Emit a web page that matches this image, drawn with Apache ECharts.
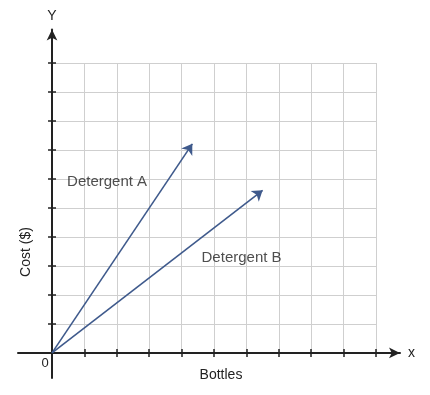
<!DOCTYPE html>
<html>
<head>
<meta charset="utf-8">
<script src="https://cdn.jsdelivr.net/npm/echarts@6/dist/echarts.min.js"></script>
<style>html,body{margin:0;padding:0;background:#fff;}#c{width:430px;height:395px;}</style>
</head>
<body>
<div id="c"></div>
<script>
// ---- data ----
var tickValues = [1, 2, 3, 4, 5, 6, 7, 8, 9, 10];
var seriesNames = ['Detergent A', 'Detergent B'];
var lineA = [[0, 0], [4.33, 7.21]];
var lineB = [[0, 0], [6.50, 5.61]];
var labelA = [1.70, 5.9];
var labelB = [5.85, 3.28];
var originLabel = '0';
var xName = 'Bottles';
var yName = 'Cost ($)';

var FONT = 'Liberation Sans, Arial, sans-serif';
var AXIS = '#222';
var LINE = '#3f5a8c';

var chart = echarts.init(document.getElementById('c'), null, {renderer: 'canvas'});

var hidden = {show: false};
var option = {
  animation: false,
  backgroundColor: '#fff',
  textStyle: {fontFamily: FONT},
  grid: [
    // axes grid (extended range so that axis lines overshoot the gridded area)
    {left: 18, top: 29.5, width: 382.0, height: 348.4},
    // gridline grid
    {left: 52, top: 63, width: 324, height: 290}
  ],
  xAxis: [
    {
      gridIndex: 0, type: 'value', min: -1.05, max: 10.74, position: 'bottom',
      axisLine: {show: true, onZero: true, onZeroAxisIndex: 0,
        lineStyle: {color: AXIS, width: 2}, symbol: ['none', 'arrow'], symbolSize: [8, 11]},
      axisTick: {show: true, customValues: tickValues, length: 4, lineStyle: {color: AXIS, width: 1.5}},
      axisLabel: hidden, splitLine: hidden,
      name: 'x', nameLocation: 'end', nameGap: 8,
      nameTextStyle: {color: AXIS, fontSize: 14, fontFamily: FONT, verticalAlign: 'middle'}
    },
    {
      gridIndex: 1, type: 'value', min: 0, max: 10, interval: 1,
      axisLine: hidden, axisTick: hidden, axisLabel: hidden,
      splitLine: {show: true, lineStyle: {color: '#cfcfcf', width: 1}}
    },
    {
      gridIndex: 0, type: 'value', min: -1.05, max: 10.74, position: 'bottom',
      axisLine: {show: false, onZero: true, onZeroAxisIndex: 0},
      axisTick: {show: true, inside: true, customValues: tickValues, length: 4, lineStyle: {color: AXIS, width: 1.5}},
      axisLabel: hidden, splitLine: hidden
    }
  ],
  yAxis: [
    {
      gridIndex: 0, type: 'value', min: -0.862, max: 11.155, position: 'left',
      axisLine: {show: true, onZero: true, onZeroAxisIndex: 0,
        lineStyle: {color: AXIS, width: 2}, symbol: ['none', 'arrow'], symbolSize: [8, 11]},
      axisTick: {show: true, customValues: tickValues, length: 4, lineStyle: {color: AXIS, width: 1.5}},
      axisLabel: hidden,
      splitLine: hidden,
      name: 'Y', nameLocation: 'end', nameGap: 6,
      nameTextStyle: {color: AXIS, fontSize: 14, fontFamily: FONT, align: 'center'}
    },
    {
      gridIndex: 1, type: 'value', min: 0, max: 10, interval: 1,
      axisLine: hidden, axisTick: hidden, axisLabel: hidden,
      splitLine: {show: true, lineStyle: {color: '#cfcfcf', width: 1}}
    },
    {
      gridIndex: 0, type: 'value', min: -0.862, max: 11.155, position: 'left',
      axisLine: {show: false, onZero: true, onZeroAxisIndex: 0},
      axisTick: {show: true, inside: true, customValues: tickValues, length: 4, lineStyle: {color: AXIS, width: 1.5}},
      axisLabel: hidden, splitLine: hidden
    }
  ],
  series: [
    {
      type: 'lines', coordinateSystem: 'cartesian2d', xAxisIndex: 0, yAxisIndex: 0,
      symbol: ['none', 'arrow'], symbolSize: [1, 10],
      lineStyle: {color: LINE, width: 1.6, opacity: 1},
      data: [
        {name: seriesNames[0], coords: lineA},
        {name: seriesNames[1], coords: lineB}
      ],
      z: 5
    },
    {
      type: 'scatter', xAxisIndex: 0, yAxisIndex: 0, symbolSize: 1,
      itemStyle: {color: 'rgba(0,0,0,0)'},
      label: {show: true, position: 'inside', formatter: '{b}', color: AXIS, fontSize: 15, fontFamily: FONT},
      data: [
        {name: seriesNames[0], value: labelA},
        {name: seriesNames[1], value: labelB}
      ],
      z: 6
    }
  ],
  graphic: [
    {type: 'text', x: 45, y: 363, silent: true,
      style: {text: originLabel, fill: AXIS, font: '13px ' + FONT, align: 'center', verticalAlign: 'middle'}},
    {type: 'text', x: 221, y: 375, silent: true,
      style: {text: xName, fill: AXIS, font: '14px ' + FONT, align: 'center', verticalAlign: 'middle'}},
    {type: 'text', x: 26, y: 252, rotation: Math.PI / 2, silent: true,
      style: {text: yName, fill: AXIS, font: '14px ' + FONT, align: 'center', verticalAlign: 'middle'}}
  ]
};
chart.setOption(option);
</script>
</body>
</html>
